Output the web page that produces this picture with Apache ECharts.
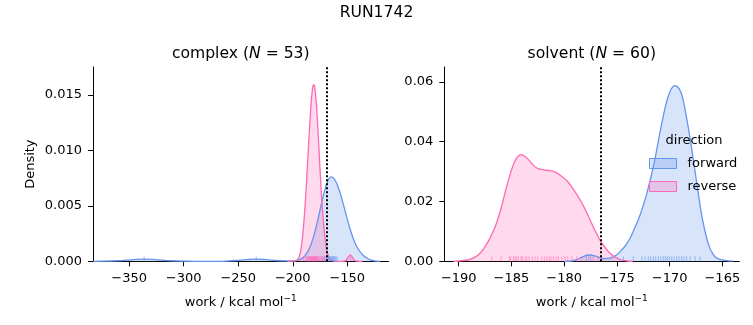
<!DOCTYPE html>
<html><head><meta charset="utf-8">
<script src="https://cdn.jsdelivr.net/npm/echarts@6/dist/echarts.min.js"></script>
<style>html,body{margin:0;padding:0;background:#fff}#c{width:753px;height:325px}</style>
</head><body><div id="c"></div>
<script>
// ---------- data ----------
const complexForwardKde = [[-383,0],[-372,0.00001],[-362,0.00005],[-352,0.00011],[-344,0.00017],[-336,0.0002],[-328,0.00017],[-320,0.00011],[-310,0.00005],[-300,0.00001],[-290,0],[-270,0],[-260,0.00002],[-252,0.00007],[-243,0.00015],[-233.5,0.0002],[-224,0.00015],[-215,0.00007],[-207,0.00004],[-204,0.00004],[-201,0.00004],[-198,0.00006],[-195,0.00011],[-192,0.00024],[-189,0.00049],[-186,0.00092],[-183,0.00159],[-180,0.00254],[-177,0.00373],[-174,0.00505],[-171,0.00629],[-168,0.00721],[-165,0.0076],[-162,0.00743],[-159,0.00686],[-156,0.00598],[-153,0.00491],[-150,0.0038],[-147,0.00278],[-144,0.00191],[-141,0.00126],[-138,0.00082],[-135,0.0005],[-132,0.0003],[-129,0.00015],[-126,0.00006],[-123,0.00002],[-120,0]];
const complexReverseKde = [[-205,0],[-199,0.00001],[-197,0.00005],[-195,0.0002],[-193,0.0008],[-191,0.0022],[-189,0.0046],[-187,0.0078],[-185,0.0114],[-183,0.0144],[-181.8,0.0156],[-180.8,0.0159],[-179.8,0.0156],[-178.5,0.0144],[-177,0.0120],[-175,0.0083],[-173,0.0050],[-171,0.0026],[-169,0.0011],[-167,0.0004],[-165,0.00012],[-162,0.00002],[-158,0],[-153,0.00002],[-151,0.0001],[-149,0.0004],[-147.2,0.00057],[-145.5,0.0004],[-143.5,0.0001],[-141,0.00002],[-136,0]];
const solventForwardKde = [[-180,0],[-179.3,0.0001],[-178.8,0.0006],[-178.3,0.0014],[-177.7,0.0021],[-177.1,0.0018],[-176.6,0.0012],[-176.1,0.0009],[-175.5,0.0012],[-175,0.0022],[-174.7,0.0032],[-174.2,0.0052],[-173.75,0.0077],[-173.3,0.0113],[-172.8,0.0155],[-172.2,0.0222],[-171.5,0.0323],[-170.9,0.0434],[-170.3,0.0532],[-169.9,0.0573],[-169.5,0.0588],[-169.1,0.0578],[-168.8,0.0552],[-168.4,0.0482],[-167.9,0.0375],[-167.4,0.0256],[-166.9,0.0144],[-166.3,0.0055],[-165.9,0.0025],[-165.5,0.001],[-164.7,0.0003],[-164,0.00005]];
const solventReverseKde = [[-190.5,0],[-190,0.0001],[-189.5,0.0003],[-189,0.0006],[-188.5,0.0013],[-188,0.0026],[-187.5,0.0049],[-187,0.0080],[-186.5,0.0120],[-186,0.0175],[-185.5,0.0245],[-185,0.0305],[-184.6,0.0340],[-184.1,0.0357],[-183.6,0.0348],[-183.1,0.0328],[-182.6,0.0312],[-182,0.0306],[-181.3,0.0303],[-180.7,0.0296],[-180.2,0.0283],[-179.7,0.0268],[-179.3,0.0250],[-178.8,0.0223],[-178.3,0.0194],[-177.8,0.0158],[-177.4,0.0127],[-177,0.0098],[-176.6,0.0071],[-176.2,0.0050],[-175.8,0.0032],[-175.2,0.0015],[-174.7,0.0006],[-174,0.0001],[-173.5,0]];

const complexForwardRug = [-336.3,-233.5,-172.5,-170.6,-169.4,-168.5,-167.6,-166.9,-166.2,-165.5,-164.8,-164.1,-163.4,-162.7,-162.0,-161.3,-160.4,-159.2];
const complexReverseRug = [-190.2,-188.5,-187.4,-186.3,-185.6,-185.0,-184.4,-183.9,-183.3,-182.8,-182.2,-181.8,-181.3,-180.9,-180.5,-180.1,-179.7,-179.2,-178.8,-178.3,-177.8,-177.2,-176.5,-175.8,-175.0,-174.1,-173.2,-172.0,-170.8,-147.2];
const solventForwardRug = [-177.9,-177.5,-174.39,-173.44,-172.64,-172.33,-172.02,-171.79,-171.54,-171.32,-171.07,-170.84,-170.6,-170.41,-170.22,-170.03,-169.8,-169.58,-169.33,-169.11,-168.86,-168.63,-168.38,-168.06,-167.59,-167.11];
const solventReverseRug = [-186.87,-185.99,-185.2,-185.07,-184.82,-184.66,-184.5,-184.35,-184.09,-183.97,-183.71,-183.55,-183.33,-183.02,-182.76,-182.51,-182.13,-181.88,-181.65,-181.44,-181.25,-181.03,-180.77,-180.55,-180.23,-179.92,-179.66,-179.28,-178.81,-178.33,-177.71,-177.23,-176.76,-176.44];

const dottedLines = [-169.1, -176.5];           // vertical reference lines (complex, solvent)
const xTicksComplex = [-350,-300,-250,-200,-150];
const xTicksSolvent = [-190,-185,-180,-175,-170,-165];
const yTicksComplex = [0,0.005,0.010,0.015];
const yTicksSolvent = [0,0.02,0.04,0.06];
const panelTitles = ['complex', 'solvent'];
const panelN = [53, 60];
const seriesNames = ['forward', 'reverse'];

// ---------- styling ----------
const F = 'DejaVu Sans';
const BLUE = '#6495ED', PINK = '#FF69B4';
const BLUE_A = 'rgba(100,149,237,0.25)', PINK_A = 'rgba(255,105,180,0.25)';
const minus = s => String(s).replace('-', '\u2212');
const FS = 13, TFS = 15.6;

function xAxisCfg(gi, min, max, ticks) {
  return {type:'value', gridIndex:gi, min, max,
    name:'work / kcal mol{s|\u22121}', nameLocation:'middle', nameGap:33,
    nameTextStyle:{fontFamily:F, fontSize:FS, color:'#000',
      rich:{s:{fontFamily:F, fontSize:9, color:'#000', padding:[0,0,8,0]}}},
    axisLine:{onZero:false, lineStyle:{color:'#000', width:1}},
    axisTick:{show:true, length:5, lineStyle:{color:'#000', width:1}, customValues:ticks},
    axisLabel:{customValues:ticks, formatter:v=>minus(v), fontFamily:F, fontSize:FS, color:'#000', margin:11},
    splitLine:{show:false}};
}
function yAxisCfg(gi, max, ticks, dec, name) {
  return {type:'value', gridIndex:gi, min:0, max,
    name, nameLocation:'middle', nameGap:56,
    nameTextStyle:{fontFamily:F, fontSize:FS, color:'#000'},
    axisLine:{show:true, lineStyle:{color:'#000', width:1}},
    axisTick:{show:true, length:5, lineStyle:{color:'#000', width:1}, customValues:ticks},
    axisLabel:{customValues:ticks, formatter:v=>v.toFixed(dec), fontFamily:F, fontSize:FS, color:'#000', margin:11},
    splitLine:{show:false}};
}
function kde(name, data, gi, color, fill, refLine) {
  const s = {type:'line', name, xAxisIndex:gi, yAxisIndex:gi, data, smooth:0.35, showSymbol:false,
    symbol:'none', silent:true, lineStyle:{color, width:1.3}, itemStyle:{color},
    areaStyle:{color:fill, opacity:1, origin:'start'}, z:2};
  if (refLine !== undefined) {
    s.markLine = {silent:true, symbol:['none','none'], label:{show:false},
      lineStyle:{color:'#000', type:[2,2], width:2}, data:[{xAxis:refLine}], z:5};
  }
  return s;
}
function rug(name, vals, gi, color) {
  return {type:'custom', name, xAxisIndex:gi, yAxisIndex:gi, silent:true, z:3,
    data: vals.map(v=>[v,0]),
    renderItem:(params, api)=>{
      const p = api.coord([api.value(0), 0]);
      return {type:'line', shape:{x1:p[0], y1:p[1], x2:p[0], y2:p[1]-5},
        style:{stroke:color, lineWidth:1, opacity:0.6}};
    }};
}

const chart = echarts.init(document.getElementById('c'), null, {renderer:'canvas'});
const titleRich = {i:{fontStyle:'italic', fontSize:TFS, fontFamily:F, fill:'#000'}};
chart.setOption({
  animation:false,
  textStyle:{fontFamily:F},
  grid:[
    {left:93, top:67, width:295.5, height:194.3},
    {left:444.3, top:67, width:295, height:194.3}
  ],
  xAxis:[xAxisCfg(0,-383.2,-112.2,xTicksComplex), xAxisCfg(1,-191.37,-163.39,xTicksSolvent)],
  yAxis:[yAxisCfg(0,0.0175,yTicksComplex,3,'Density'), yAxisCfg(1,0.065,yTicksSolvent,2,'')],
  legend:{orient:'vertical', left:649, top:157, padding:0, itemWidth:27, itemHeight:10, itemGap:10, icon:'rect',
    selectedMode:false,
    textStyle:{fontFamily:F, fontSize:FS, color:'#000', padding:[0,0,0,6]},
    data:[
      {name:seriesNames[0], itemStyle:{color:BLUE_A, borderColor:BLUE, borderWidth:1}},
      {name:seriesNames[1], itemStyle:{color:PINK_A, borderColor:PINK, borderWidth:1}}
    ]},
  graphic:[
    {type:'text', x:376.5, y:13, silent:true, style:{text:'RUN1742', fill:'#000', fontSize:TFS, fontFamily:F, align:'center', verticalAlign:'middle'}},
    {type:'text', x:240.75, y:54, silent:true, style:{text:panelTitles[0]+' ({i|N} = '+panelN[0]+')', rich:titleRich, fill:'#000', fontSize:TFS, fontFamily:F, align:'center', verticalAlign:'middle'}},
    {type:'text', x:591.8, y:54, silent:true, style:{text:panelTitles[1]+' ({i|N} = '+panelN[1]+')', rich:titleRich, fill:'#000', fontSize:TFS, fontFamily:F, align:'center', verticalAlign:'middle'}},
    {type:'text', x:694, y:141, silent:true, z:10, style:{text:'direction', fill:'#000', fontSize:FS, fontFamily:F, align:'center', verticalAlign:'middle'}}
  ],
  series:[
    kde(seriesNames[0], complexForwardKde, 0, BLUE, BLUE_A, dottedLines[0]),
    kde(seriesNames[1], complexReverseKde, 0, PINK, PINK_A),
    rug('rf0', complexForwardRug, 0, BLUE),
    rug('rr0', complexReverseRug, 0, PINK),
    kde(seriesNames[0], solventForwardKde, 1, BLUE, BLUE_A, dottedLines[1]),
    kde(seriesNames[1], solventReverseKde, 1, PINK, PINK_A),
    rug('rf1', solventForwardRug, 1, BLUE),
    rug('rr1', solventReverseRug, 1, PINK)
  ]
});
</script></body></html>
